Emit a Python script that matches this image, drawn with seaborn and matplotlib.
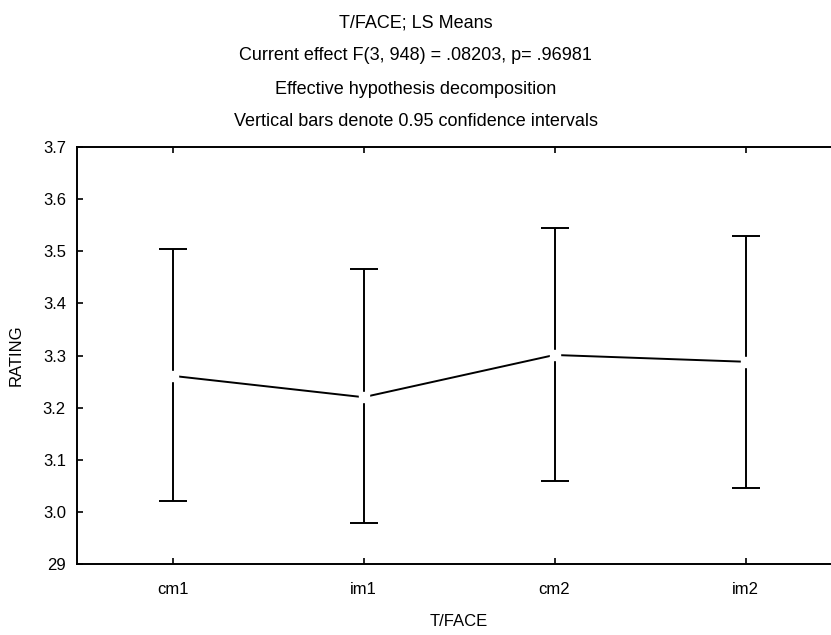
import matplotlib
matplotlib.use("Agg")
import matplotlib.pyplot as plt
import seaborn as sns
import pandas as pd
import numpy as np

categories = ["cm1", "im1", "cm2", "im2"]
means = [3.261, 3.220, 3.301, 3.288]
upper = [3.504, 3.466, 3.545, 3.529]
lower = [3.021, 2.979, 3.059, 3.046]
y_ticks = [2.9, 3.0, 3.1, 3.2, 3.3, 3.4, 3.5, 3.6, 3.7]
y_tick_labels = ["29", "3.0", "3.1", "3.2", "3.3", "3.4", "3.5", "3.6", "3.7"]
title_lines = [
    "T/FACE; LS Means",
    "Current effect F(3, 948) = .08203, p= .96981",
    "Effective hypothesis decomposition",
    "Vertical bars denote 0.95 confidence intervals",
]

sns.set_theme(style="white")
plt.rcParams["font.family"] = ["Liberation Sans", "DejaVu Sans"]
plt.rcParams["text.color"] = "black"
plt.rcParams["axes.labelcolor"] = "black"
plt.rcParams["xtick.color"] = "black"
plt.rcParams["ytick.color"] = "black"

fig = plt.figure(figsize=(8.31, 6.35), dpi=100)
ax = fig.add_axes([77 / 831, 1 - 564 / 635, (841 - 77) / 831, 417 / 635])

df = pd.DataFrame({"pos": np.arange(len(categories)), "mean": means})
sns.lineplot(data=df, x="pos", y="mean", ax=ax, color="black", linewidth=1.4,
             estimator=None, errorbar=None, sort=False)

yerr = [np.array(means) - np.array(lower), np.array(upper) - np.array(means)]
ax.errorbar(df["pos"], df["mean"], yerr=yerr, fmt="none", ecolor="black",
            elinewidth=1.4, capsize=10, capthick=1.4)
ax.scatter(df["pos"], df["mean"], marker="s", s=50, color="white",
           edgecolors="white", zorder=5)

ax.set_xlim(-0.5, len(categories) - 0.5)
ax.set_ylim(2.9, 3.7)
ax.set_xticks(np.arange(len(categories)))
ax.set_xticklabels(categories, fontsize=12, color="black")
ax.set_yticks(y_ticks)
ax.set_yticklabels(y_tick_labels, fontsize=12, color="black")
ax.tick_params(axis="both", direction="in", length=4, width=1.2, color="black",
               top=True, left=True, bottom=True, right=False, pad=8)
ax.tick_params(axis="x", pad=13)
for s in ax.spines.values():
    s.set_color("black")
    s.set_linewidth(1.4)
ax.set_xlabel("T/FACE", fontsize=12, labelpad=12, color="black")
ax.set_ylabel("RATING", fontsize=12, labelpad=14, color="black")

ys = [23, 56, 89, 122]
for t, y in zip(title_lines, ys):
    fig.text(0.5, 1 - y / 635, t, ha="center", va="center", fontsize=13,
             color="black")

fig.savefig("out.png", dpi=100)
